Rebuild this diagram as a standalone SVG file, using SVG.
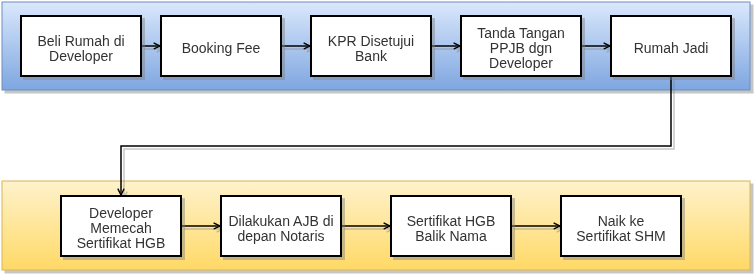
<svg xmlns="http://www.w3.org/2000/svg" width="755" height="276" viewBox="0 0 755 276">
<defs>
<linearGradient id="gBlue" x1="0" y1="0" x2="0" y2="1">
<stop offset="0" stop-color="#dae8fc"/><stop offset="1" stop-color="#7ea6e0"/>
</linearGradient>
<linearGradient id="gYellow" x1="0" y1="0" x2="0" y2="1">
<stop offset="0" stop-color="#fff2cc"/><stop offset="1" stop-color="#ffd966"/>
</linearGradient>
<filter id="sh" x="-10%" y="-10%" width="130%" height="130%">
<feOffset in="SourceAlpha" dx="3" dy="3" result="o"/>
<feFlood flood-color="#808080" flood-opacity="0.45"/>
<feComposite in2="o" operator="in" result="s"/>
<feMerge><feMergeNode in="s"/><feMergeNode in="SourceGraphic"/></feMerge>
</filter>
<marker id="arr" viewBox="0 0 10 10" refX="9" refY="5" markerWidth="8" markerHeight="8" markerUnits="userSpaceOnUse" orient="auto">
<path d="M1,1 L9,5 L1,9" fill="none" stroke="#000" stroke-width="1.8"/>
</marker>
<style>
.box{fill:#fff;stroke:#000;stroke-width:2}
.t{font-family:"Liberation Sans",Arial,Helvetica,sans-serif;font-size:14px;fill:#333;text-anchor:middle}
.c{fill:none;stroke:#000;stroke-width:1.5;marker-end:url(#arr)}
</style>
</defs>
<g id="lane-top" filter="url(#sh)">
<rect x="2" y="2" width="748" height="88" fill="url(#gBlue)" stroke="#6c8ebf" stroke-width="1"/>
</g>
<g id="lane-bottom" filter="url(#sh)">
<rect x="2" y="181" width="748" height="89" fill="url(#gYellow)" stroke="#d6b656" stroke-width="1"/>
</g>
<g id="connectors" filter="url(#sh)">
<path class="c" d="M141,46 L160,46"/>
<path class="c" d="M281,46 L310,46"/>
<path class="c" d="M431,46 L460,46"/>
<path class="c" d="M581,46 L610,46"/>
<path class="c" d="M671,76 L671,146 L121,146 L121,195"/>
<path class="c" d="M181,226 L220,226"/>
<path class="c" d="M341,226 L390,226"/>
<path class="c" d="M511,226 L560,226"/>
</g>
<g id="n1" filter="url(#sh)"><rect class="box" x="21" y="16" width="120" height="60"/>
<text class="t" x="81" y="46">Beli Rumah di</text><text class="t" x="81" y="61">Developer</text></g>
<g id="n2" filter="url(#sh)"><rect class="box" x="161" y="16" width="120" height="60"/>
<text class="t" x="221" y="53">Booking Fee</text></g>
<g id="n3" filter="url(#sh)"><rect class="box" x="311" y="16" width="120" height="60"/>
<text class="t" x="371" y="46">KPR Disetujui</text><text class="t" x="371" y="61">Bank</text></g>
<g id="n4" filter="url(#sh)"><rect class="box" x="461" y="16" width="120" height="60"/>
<text class="t" x="521" y="38">Tanda Tangan</text><text class="t" x="521" y="53">PPJB dgn</text><text class="t" x="521" y="68">Developer</text></g>
<g id="n5" filter="url(#sh)"><rect class="box" x="611" y="16" width="120" height="60"/>
<text class="t" x="671" y="53">Rumah Jadi</text></g>
<g id="n6" filter="url(#sh)"><rect class="box" x="61" y="196" width="120" height="60"/>
<text class="t" x="121" y="218">Developer</text><text class="t" x="121" y="233">Memecah</text><text class="t" x="121" y="248">Sertifikat HGB</text></g>
<g id="n7" filter="url(#sh)"><rect class="box" x="221" y="196" width="120" height="60"/>
<text class="t" x="281" y="226">Dilakukan AJB di</text><text class="t" x="281" y="241">depan Notaris</text></g>
<g id="n8" filter="url(#sh)"><rect class="box" x="391" y="196" width="120" height="60"/>
<text class="t" x="451" y="226">Sertifikat HGB</text><text class="t" x="451" y="241">Balik Nama</text></g>
<g id="n9" filter="url(#sh)"><rect class="box" x="561" y="196" width="120" height="60"/>
<text class="t" x="621" y="226">Naik ke</text><text class="t" x="621" y="241">Sertifikat SHM</text></g>
</svg>
